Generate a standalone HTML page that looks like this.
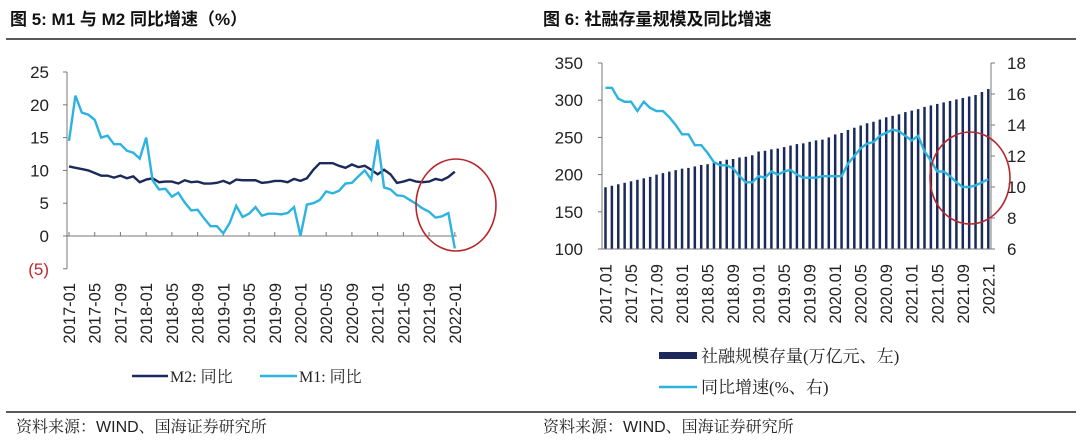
<!DOCTYPE html>
<html><head><meta charset="utf-8">
<style>
body{margin:0;background:#fff;}
svg{display:block;font-family:"Liberation Sans","Noto Sans CJK SC",sans-serif;}
.cjk{font-family:"Liberation Serif","Noto Serif CJK SC",serif;}
</style></head>
<body>
<svg id="root" width="1080" height="444" viewBox="0 0 1080 444" xmlns="http://www.w3.org/2000/svg">
<text x="10" y="25" font-size="17" font-weight="bold" fill="#111">图 5:  M1 与 M2 同比增速（%）</text>
<text x="543" y="25" font-size="17" font-weight="bold" fill="#111">图 6:  社融存量规模及同比增速</text>
<line x1="6" y1="39" x2="1076" y2="39" stroke="#222" stroke-width="1.5"/>
<line x1="6" y1="412" x2="1076" y2="412" stroke="#222" stroke-width="1.5"/>
<text x="16" y="432" font-size="16" class="cjk" fill="#222">资料来源：<tspan font-family="Liberation Sans">WIND</tspan>、国海证券研究所</text>
<text x="543" y="432" font-size="16" class="cjk" fill="#222">资料来源：<tspan font-family="Liberation Sans">WIND</tspan>、国海证券研究所</text>
<g id="left"></g>
<g id="right"></g>
<ellipse cx="456" cy="205" rx="40" ry="46" fill="none" stroke="#b8262b" stroke-width="1.6"/>
<ellipse cx="970" cy="178" rx="40" ry="46" fill="none" stroke="#b8262b" stroke-width="1.6"/>
</svg>
<script>
const months = [];
for (let y = 2017; y <= 2022; y++) for (let m = 1; m <= 12; m++) { if (y === 2022 && m > 1) break; months.push(y + '-' + String(m).padStart(2, '0')); }
const m2Values = [10.6,10.4,10.2,10.0,9.6,9.2,9.2,8.9,9.2,8.8,9.1,8.2,
 8.6,8.8,8.2,8.3,8.3,8.0,8.5,8.2,8.3,8.0,8.0,8.1,
 8.4,8.0,8.6,8.5,8.5,8.5,8.1,8.2,8.4,8.4,8.2,8.7,
 8.4,8.8,10.1,11.1,11.1,11.1,10.7,10.4,10.9,10.5,10.7,10.1,
 9.4,10.1,9.4,8.1,8.3,8.6,8.3,8.2,8.3,8.7,8.5,9.0,9.8];
const m1Values = [14.5,21.4,18.8,18.5,17.7,15.0,15.3,14.0,14.0,13.0,12.7,11.8,
 15.0,8.5,7.1,7.2,6.0,6.6,5.1,3.9,4.0,2.7,1.5,1.5,
 0.4,2.0,4.6,2.9,3.4,4.4,3.1,3.4,3.4,3.3,3.5,4.4,
 0.0,4.8,5.0,5.5,6.8,6.5,6.9,8.0,8.1,9.1,10.0,8.6,
 14.7,7.4,7.1,6.2,6.1,5.5,4.9,4.2,3.7,2.8,3.0,3.5,-1.9];
const leftTicks = [25,20,15,10,5,0,-5];
const leftTickLabels = ['25','20','15','10','5','0','(5)'];
const tsfStock = [183,185,187,189,191,193,195,197,200,202,204,206,
 208,209,211,213,214,216,218,220,221,223,224,226,
 231,232,234,235,237,239,241,242,244,246,247,250,
 254,256,260,263,266,269,271,274,277,279,281,284,
 286,288,291,293,295,297,299,301,303,305,307,311,315];
const tsfGrowth = [16.4,16.4,15.7,15.5,15.5,14.9,15.5,15.1,14.9,14.9,14.5,14.0,
 13.4,13.4,12.7,12.7,12.2,11.6,11.4,11.4,11.2,10.7,10.3,10.3,
 10.7,10.6,11.0,10.8,11.0,11.1,10.8,10.6,10.6,10.6,10.7,10.7,
 10.7,10.7,11.5,12.0,12.5,12.8,12.9,13.3,13.5,13.7,13.6,13.3,
 13.0,13.3,12.3,11.7,11.0,11.0,10.7,10.3,10.0,10.0,10.1,10.3,10.5];
const rightLeftTicks = [350,300,250,200,150,100];
const rightRightTicks = [18,16,14,12,10,8,6];

const NS = 'http://www.w3.org/2000/svg';
function mk(parent, tag, attrs, text) {
  const e = document.createElementNS(NS, tag);
  for (const k in attrs) e.setAttribute(k, attrs[k]);
  if (text !== undefined) e.textContent = text;
  parent.appendChild(e); return e;
}
/* ---- left chart ---- */
const L = document.getElementById('left');
const lx = i => 69 + i * 6.43;
const ly = v => 236 - v * 6.56;
let e = mk(L, 'line', {x1:67, y1:ly(25), x2:67, y2:ly(-5), stroke:'#777', 'stroke-width':1});
 
leftTicks.forEach((v, i) => {
  const t = mk(L, 'line', {x1:63, y1:ly(v), x2:67, y2:ly(v), stroke:'#777'});
   
  const lb = mk(L, 'text', {x:49, y:ly(v) + 6, 'text-anchor':'end', 'font-size':17, fill: v < 0 ? '#c0272d' : '#222'}, leftTickLabels[i]);
   
});
e = mk(L, 'line', {x1:67, y1:ly(0), x2:lx(60) + 2, y2:ly(0), stroke:'#777'});
 
months.forEach((m, i) => {
  if (i % 4) return;
  const t = mk(L, 'line', {x1:lx(i), y1:ly(0), x2:lx(i), y2:ly(0) - 4, stroke:'#777'});
   
  const lb = mk(L, 'text', {x:0, y:0, transform:`translate(${lx(i) + 6},283) rotate(-90)`, 'text-anchor':'end', 'font-size':16.5, fill:'#222'}, m);
   
});
e = mk(L, 'polyline', {points: m2Values.map((v, i) => lx(i) + ',' + ly(v)).join(' '), fill:'none', stroke:'#1b2a5a', 'stroke-width':2.4});
 
e = mk(L, 'polyline', {points: m1Values.map((v, i) => lx(i) + ',' + ly(v)).join(' '), fill:'none', stroke:'#2cb3e0', 'stroke-width':2.4});
 
e = mk(L, 'line', {x1:132, y1:376, x2:168, y2:376, stroke:'#1b2a5a', 'stroke-width':2.5});
 
e = mk(L, 'text', {x:170, y:382, 'font-size':16, class:'cjk', fill:'#222'}, 'M2: 同比');
 
e = mk(L, 'line', {x1:260, y1:376, x2:297, y2:376, stroke:'#2cb3e0', 'stroke-width':2.5});
 
e = mk(L, 'text', {x:299, y:382, 'font-size':16, class:'cjk', fill:'#222'}, 'M1: 同比');
 

/* ---- right chart ---- */
const R = document.getElementById('right');
const rx = i => 605.5 + i * 6.38;
const ryL = v => 249 - (v - 100) * 0.744;
const ryR = v => 249 - (v - 6) * 15.5;
tsfStock.forEach((v, i) => {
  const b = mk(R, 'rect', {x:rx(i) - 1.25, y:ryL(v), width:2.5, height:249 - ryL(v), fill:'#1b2a5a'});
   
});
e = mk(R, 'line', {x1:602, y1:63, x2:602, y2:249, stroke:'#777'});
 
e = mk(R, 'line', {x1:991, y1:63, x2:991, y2:249, stroke:'#777'});
 
e = mk(R, 'line', {x1:602, y1:249, x2:991, y2:249, stroke:'#777'});
 
rightLeftTicks.forEach(v => {
  const t = mk(R, 'line', {x1:598, y1:ryL(v), x2:602, y2:ryL(v), stroke:'#777'});
   
  const lb = mk(R, 'text', {x:583, y:ryL(v) + 6, 'text-anchor':'end', 'font-size':17, fill:'#222'}, String(v));
   
});
rightRightTicks.forEach(v => {
  const t = mk(R, 'line', {x1:991, y1:ryR(v), x2:995, y2:ryR(v), stroke:'#777'});
   
  const lb = mk(R, 'text', {x:1007, y:ryR(v) + 6, 'font-size':17, fill:'#222'}, String(v));
   
});
months.forEach((m, i) => {
  if (i % 4) return;
  const txt = i === 60 ? '2022.1' : m.replace('-', '.');
  const lb = mk(R, 'text', {x:0, y:0, transform:`translate(${rx(i) + 6},264) rotate(-90)`, 'text-anchor':'end', 'font-size':16.5, fill:'#222'}, txt);
   
});
e = mk(R, 'polyline', {points: tsfGrowth.map((v, i) => rx(i) + ',' + ryR(v)).join(' '), fill:'none', stroke:'#2cb3e0', 'stroke-width':2.4});
 
e = mk(R, 'rect', {x:659, y:352, width:38, height:7, fill:'#1b2a5a'});
 
e = mk(R, 'text', {x:701, y:362, 'font-size':17, class:'cjk', fill:'#222'}, '社融规模存量(万亿元、左)');
 
e = mk(R, 'line', {x1:659, y1:387, x2:697, y2:387, stroke:'#2cb3e0', 'stroke-width':2.5});
 
e = mk(R, 'text', {x:701, y:393, 'font-size':17, class:'cjk', fill:'#222'}, '同比增速(%、右)');
 
</script>
</body></html>
